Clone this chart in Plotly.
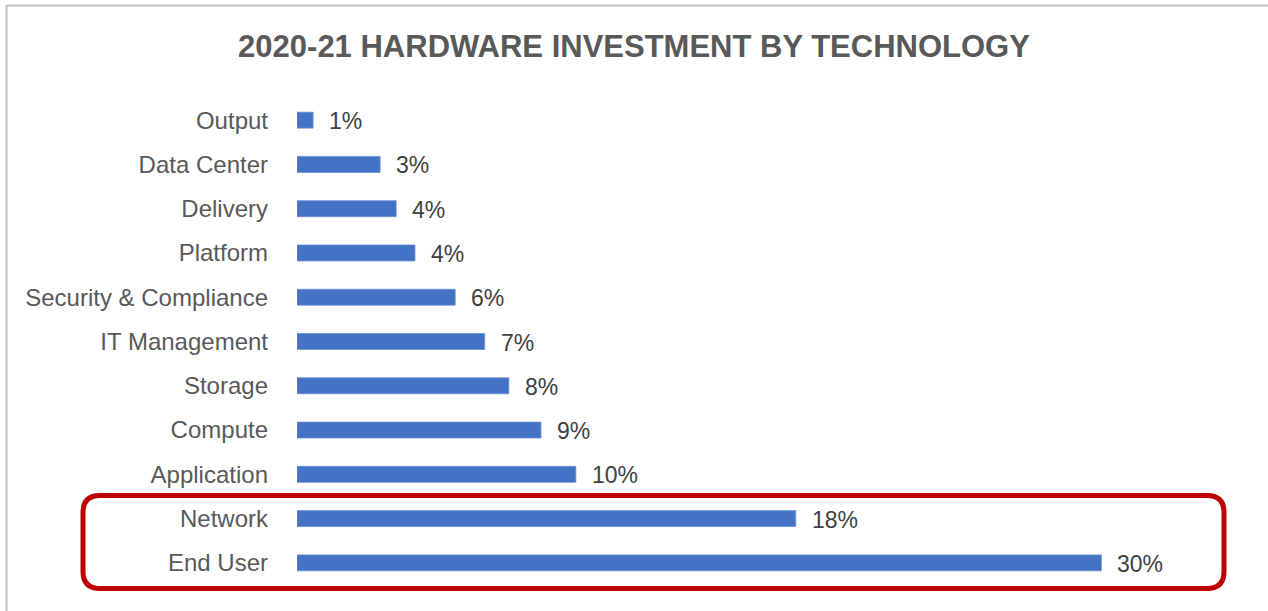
import plotly.graph_objects as go

categories = ["Output", "Data Center", "Delivery", "Platform", "Security & Compliance",
              "IT Management", "Storage", "Compute", "Application", "Network", "End User"]
values = [0.6, 3.1, 3.7, 4.4, 5.9, 7.0, 7.9, 9.1, 10.4, 18.6, 30.0]
labels = ["1%", "3%", "4%", "4%", "6%", "7%", "8%", "9%", "10%", "18%", "30%"]

W_FIG, H_FIG = 1268, 611
L, R, T, B = 297, 113, 98, 26
PW = W_FIG - L - R
PH = H_FIG - T - B
FONT = "Arial, Liberation Sans, sans-serif"


def px(x):
    return (x - L) / PW


def py(y):
    return (H_FIG - B - y) / PH


fig = go.Figure()
fig.add_trace(go.Bar(
    x=values, y=categories, orientation="h",
    marker=dict(color="#4472C4", line=dict(color="#6a8fd3", width=0.8)),
    hoverinfo="skip",
))

annotations = []
for c, v, t in zip(categories, values, labels):
    annotations.append(dict(x=v, y=c, xref="x", yref="y", text=t, showarrow=False,
                            xanchor="left", yanchor="middle", xshift=14, yshift=-1,
                            font=dict(family=FONT, size=23, color="#404040")))

# rounded highlight box (pixel geometry -> paper coordinates)
x0, x1, y0, y1, rad = 83, 1224, 495.5, 588.5, 17
rx, ry = rad / PW, rad / PH
X0, X1, Y0, Y1 = px(x0), px(x1), py(y0), py(y1)
path = (f"M {X0+rx},{Y0} L {X1-rx},{Y0} Q {X1},{Y0} {X1},{Y0-ry} "
        f"L {X1},{Y1+ry} Q {X1},{Y1} {X1-rx},{Y1} "
        f"L {X0+rx},{Y1} Q {X0},{Y1} {X0},{Y1+ry} "
        f"L {X0},{Y0-ry} Q {X0},{Y0} {X0+rx},{Y0} Z")

shapes = [
    dict(type="path", xref="paper", yref="paper", path=path,
         line=dict(color="#C00000", width=5), layer="above"),
    dict(type="line", xref="paper", yref="paper", x0=px(6.5), x1=px(6.5), y0=py(5.5), y1=py(615),
         line=dict(color="#BFBFBF", width=2)),
    dict(type="line", xref="paper", yref="paper", x0=px(6.5), x1=px(1275), y0=py(5.5), y1=py(5.5),
         line=dict(color="#BFBFBF", width=2)),
]

fig.update_layout(
    width=W_FIG, height=H_FIG,
    margin=dict(l=L, r=R, t=T, b=B),
    paper_bgcolor="white", plot_bgcolor="white",
    showlegend=False,
    bargap=0.64,
    title=dict(text="<b>2020-21 HARDWARE INVESTMENT BY TECHNOLOGY</b>",
               x=0.5, xref="container", xanchor="center",
               y=1 - 46 / H_FIG, yref="container", yanchor="middle",
               font=dict(family=FONT, size=31, color="#595959")),
    xaxis=dict(range=[0, 32], visible=False, fixedrange=True),
    yaxis=dict(categoryorder="array", categoryarray=categories, autorange="reversed",
               showgrid=False, zeroline=False, showline=False, ticks="",
               ticklabelstandoff=28, fixedrange=True,
               tickfont=dict(family=FONT, size=24, color="#595959")),
    annotations=annotations,
    shapes=shapes,
)

fig.write_html("out.html", config={"displayModeBar": False},
               post_script="document.body.style.margin='0px';")
